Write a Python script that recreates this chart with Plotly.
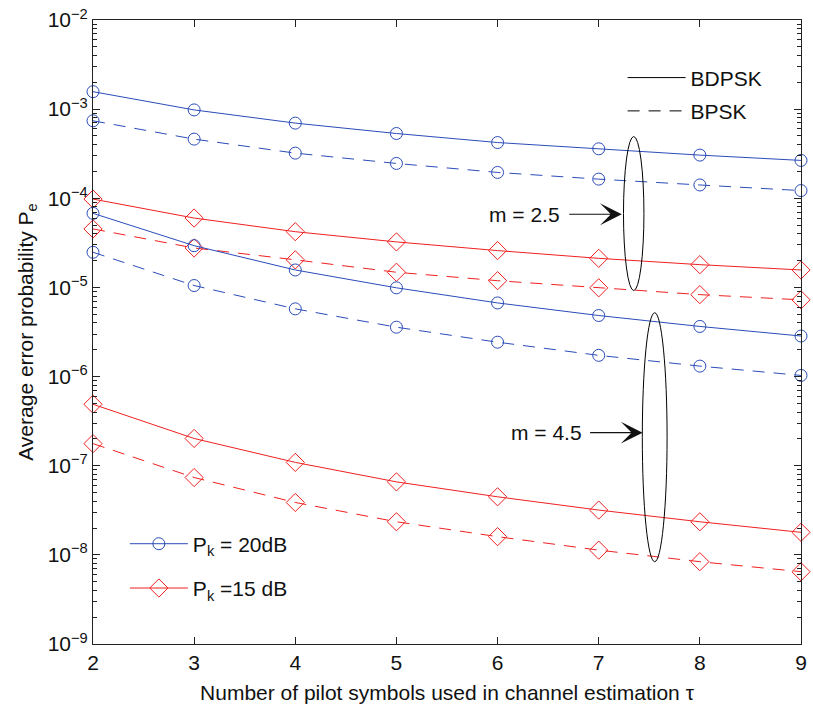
import plotly.graph_objects as go

tau = [2, 3, 4, 5, 6, 7, 8, 9]

# m = 2.5
m25_20dB_bdpsk = [1.57e-3, 9.8e-4, 6.97e-4, 5.33e-4, 4.22e-4, 3.59e-4, 3.05e-4, 2.66e-4]
m25_20dB_bpsk = [7.4e-4, 4.61e-4, 3.21e-4, 2.46e-4, 1.95e-4, 1.64e-4, 1.41e-4, 1.22e-4]
m25_15dB_bdpsk = [9.8e-5, 6.0e-5, 4.22e-5, 3.24e-5, 2.59e-5, 2.12e-5, 1.80e-5, 1.57e-5]
m25_15dB_bpsk = [4.53e-5, 2.77e-5, 2.04e-5, 1.48e-5, 1.19e-5, 9.9e-6, 8.3e-6, 7.26e-6]
# m = 4.5
m45_20dB_bdpsk = [6.78e-5, 2.94e-5, 1.57e-5, 9.9e-6, 6.7e-6, 4.84e-6, 3.65e-6, 2.85e-6]
m45_20dB_bpsk = [2.48e-5, 1.05e-5, 5.75e-6, 3.58e-6, 2.43e-6, 1.73e-6, 1.31e-6, 1.03e-6]
m45_15dB_bdpsk = [4.89e-7, 2.02e-7, 1.09e-7, 6.59e-8, 4.48e-8, 3.18e-8, 2.35e-8, 1.79e-8]
m45_15dB_bpsk = [1.77e-7, 7.37e-8, 3.87e-8, 2.35e-8, 1.60e-8, 1.13e-8, 8.38e-9, 6.47e-9]

ytick_vals = [1e-9, 1e-8, 1e-7, 1e-6, 1e-5, 1e-4, 1e-3, 1e-2]
ytick_text = ["10<sup>\u22129</sup>", "10<sup>\u22128</sup>", "10<sup>\u22127</sup>", "10<sup>\u22126</sup>",
              "10<sup>\u22125</sup>", "10<sup>\u22124</sup>", "10<sup>\u22123</sup>", "10<sup>\u22122</sup>"]
minor_vals = [k * d for d in [1e-9, 1e-8, 1e-7, 1e-6, 1e-5, 1e-4, 1e-3] for k in range(2, 10)]

BLUE = "#2B4CB8"
RED = "#F02020"
FONT = "Liberation Sans"
FS = 21
DASH = "12px,9px"

fig = go.Figure()

series = [
    (m25_20dB_bdpsk, BLUE, "solid", "circle-open", 12),
    (m25_20dB_bpsk, BLUE, DASH, "circle-open", 12),
    (m25_15dB_bdpsk, RED, "solid", "diamond-open", 14),
    (m25_15dB_bpsk, RED, DASH, "diamond-open", 14),
    (m45_20dB_bdpsk, BLUE, "solid", "circle-open", 12),
    (m45_20dB_bpsk, BLUE, DASH, "circle-open", 12),
    (m45_15dB_bdpsk, RED, "solid", "diamond-open", 14),
    (m45_15dB_bpsk, RED, DASH, "diamond-open", 14),
]
for ys, col, dash, sym, sz in series:
    fig.add_trace(go.Scatter(x=tau, y=ys, mode="lines+markers",
                             line=dict(color=col, width=1, dash=dash),
                             marker=dict(symbol=sym, size=sz, color=col, line=dict(width=1, color=col)),
                             showlegend=False, cliponaxis=False))

# legend 1 (power)
fig.add_trace(go.Scatter(x=[None], y=[None], mode="lines+markers", name="P<sub>k</sub> = 20dB",
                         line=dict(color=BLUE, width=1),
                         marker=dict(symbol="circle-open", size=12, color=BLUE, line=dict(width=1, color=BLUE)),
                         legend="legend", legendgroup="a"))
fig.add_trace(go.Scatter(x=[None], y=[None], mode="lines+markers", name="P<sub>k</sub> =15 dB",
                         line=dict(color=RED, width=1),
                         marker=dict(symbol="diamond-open", size=14, color=RED, line=dict(width=1, color=RED)),
                         legend="legend", legendgroup="b"))
# legend 2 (modulation)
fig.add_trace(go.Scatter(x=[None], y=[None], mode="lines", name="BDPSK",
                         line=dict(color="black", width=1), legend="legend2", legendgroup="c"))
fig.add_trace(go.Scatter(x=[None], y=[None], mode="lines", name="BPSK",
                         line=dict(color="black", width=1, dash=DASH), legend="legend2", legendgroup="d"))

# ellipses grouping curves (shape coords on log axis are data values)
fig.add_shape(type="circle", xref="x", yref="y", x0=7.245, x1=7.447, y0=10 ** -5.035, y1=10 ** -3.307,
              line=dict(color="black", width=1))
fig.add_shape(type="circle", xref="x", yref="y", x0=7.431, x1=7.676, y0=10 ** -8.077, y1=10 ** -5.284,
              line=dict(color="black", width=1))

# arrows and labels
for (xh, yl, txt, xt) in [(7.228, -4.179, "m = 2.5", 6.268), (7.434, -6.629, "m = 4.5", 6.484)]:
    fig.add_annotation(x=xh, y=yl, xref="x", yref="y", ax=-54, ay=0, text="",
                       showarrow=True, arrowhead=3, arrowsize=3.3, arrowwidth=1.1, arrowcolor="#111")
    fig.add_annotation(x=xt, y=yl, xref="x", yref="y", text=txt, showarrow=False,
                       font=dict(family=FONT, size=FS, color="#111"))

fig.update_layout(
    width=813, height=717,
    margin=dict(l=93, r=6, t=19, b=73),
    paper_bgcolor="white", plot_bgcolor="white",
    font=dict(family=FONT, size=FS, color="#111"),
    legend=dict(x=0.045, y=0.193, xanchor="left", yanchor="top", bgcolor="rgba(0,0,0,0)",
                itemwidth=58, tracegroupgap=14, traceorder="grouped",
                font=dict(family=FONT, size=FS)),
    legend2=dict(x=0.748, y=0.94, xanchor="left", yanchor="top", bgcolor="rgba(0,0,0,0)",
                 itemwidth=58, tracegroupgap=3, traceorder="grouped",
                 font=dict(family=FONT, size=FS)),
    xaxis=dict(range=[2, 9], tickvals=tau, ticks="inside", ticklen=7, tickcolor="#222",
               showline=True, linecolor="#222", linewidth=1, mirror="ticks", showgrid=False,
               zeroline=False,
               title=dict(text="Number of pilot symbols used in channel estimation \u03c4",
                          font=dict(family=FONT, size=FS), standoff=12),
               tickfont=dict(family=FONT, size=FS)),
    yaxis=dict(type="log", range=[-9, -2], tickvals=ytick_vals, ticktext=ytick_text,
               ticks="inside", ticklen=7, tickcolor="#222",
               minor=dict(tickvals=minor_vals, ticks="inside", ticklen=4, tickcolor="#222", showgrid=False),
               showline=True, linecolor="#222", linewidth=1, mirror="ticks", showgrid=False,
               title=dict(text="Average error probability P<sub>e</sub>",
                          font=dict(family=FONT, size=FS), standoff=8),
               tickfont=dict(family=FONT, size=FS)),
)

fig.write_html("out.html")
